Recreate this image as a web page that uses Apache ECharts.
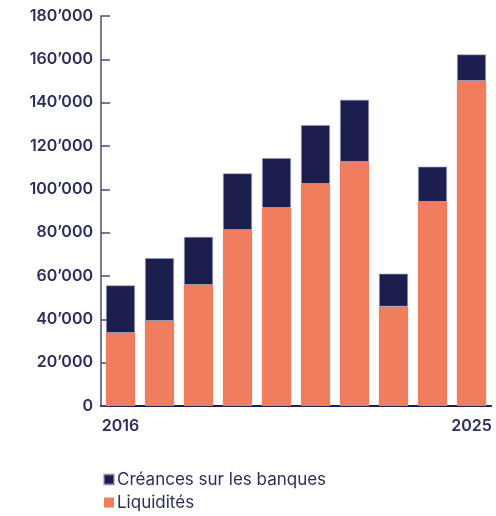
<!DOCTYPE html>
<html><head><meta charset="utf-8">
<script src="https://cdn.jsdelivr.net/npm/echarts@6/dist/echarts.min.js"></script>
<style>html,body{margin:0;padding:0;background:#fff}#c{width:496px;height:516px}</style>
</head><body><div id="c"></div>
<script>
const years = ['2016','2017','2018','2019','2020','2021','2022','2023','2024','2025'];
const liquidites = [33700, 39200, 55800, 81200, 91400, 102500, 112600, 45800, 94200, 150000];
const creances = [22000, 29100, 22300, 26200, 23100, 27200, 28800, 15300, 16300, 12300];
const yTicks = [0, 20000, 40000, 60000, 80000, 100000, 120000, 140000, 160000, 180000];

const navy = '#1c1f4e';
const orange = '#ef7d5e';
const textC = '#2b2e5c';
const fmt = v => v === 0 ? '0' : String(v).replace(/(\d)(?=(\d{3})+$)/g, '$1\u2019');

const chart = echarts.init(document.getElementById('c'));
chart.setOption({
  animation: false,
  grid: {left: 101, right: 5, top: 16, bottom: 110},
  legend: {
    orient: 'vertical', left: 98, top: 466, itemGap: 6,
    itemWidth: 10, itemHeight: 10, icon: 'rect',
    data: ['Créances sur les banques', 'Liquidités'],
    textStyle: {color: textC, fontSize: 17, fontFamily: 'Inter', padding: [0,0,0,-2]}
  },
  xAxis: {
    type: 'category', data: years,
    axisLine: {lineStyle: {color: navy, width: 2}},
    axisTick: {show: false},
    axisLabel: {
      interval: (i) => i === 0 || i === years.length - 1,
      color: textC, fontSize: 16, fontWeight: 600, fontFamily: 'Inter', margin: 12
    }
  },
  yAxis: {
    type: 'value', min: 0, max: 180000, interval: 20000,
    axisLine: {show: true, lineStyle: {color: '#4b4e78', width: 1.5}},
    axisTick: {show: true, inside: true, length: 9, lineStyle: {color: '#4b4e78', width: 1.5}},
    splitLine: {show: false},
    axisLabel: {
      formatter: v => yTicks.includes(v) ? fmt(v) : '',
      color: textC, fontSize: 16, fontWeight: 600, fontFamily: 'Inter', margin: 8
    }
  },
  series: [
    {name: 'Liquidités', type: 'bar', stack: 't', data: liquidites, barWidth: '75%',
     itemStyle: {color: orange}},
    {name: 'Créances sur les banques', type: 'bar', stack: 't', data: creances, barWidth: '75%',
     itemStyle: {color: navy, borderColor: 'rgba(150,152,185,0.6)', borderWidth: 1}}
  ]
});
</script></body></html>
